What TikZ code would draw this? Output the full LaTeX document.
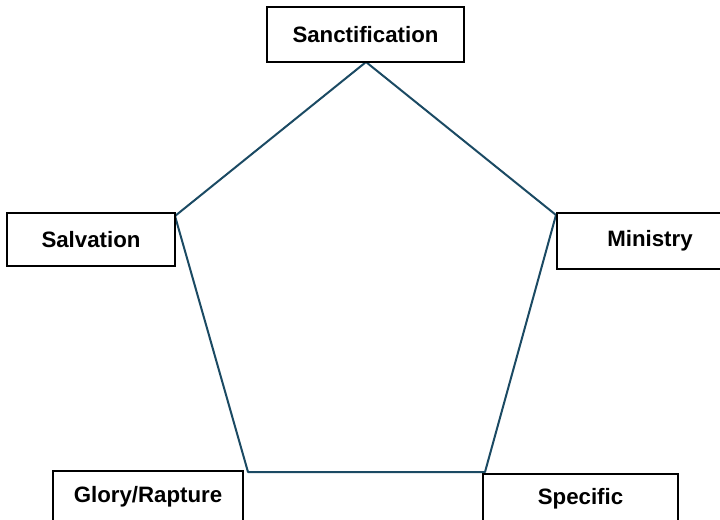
\documentclass[tikz,border=0pt]{standalone}
\usepackage{fontspec}
\setmainfont{Liberation Sans}
\usetikzlibrary{positioning}
\definecolor{edgeblue}{HTML}{1B4A63}
\begin{document}
\begin{tikzpicture}[x=0.75pt,y=-0.75pt,
  stage/.style={draw=black,line width=1.1pt,rectangle,inner sep=0pt,
    font=\fontsize{16.7}{20}\selectfont\bfseries},
  side/.style={draw=edgeblue,line width=1.5pt,line join=round}
]
  \useasboundingbox (0,0) rectangle (720,519);

  \coordinate (vtop) at (366,62);
  \coordinate (vright) at (556,215);
  \coordinate (vbr) at (485,472);
  \coordinate (vbl) at (248,472);
  \coordinate (vleft) at (175,216);

  \draw[side] (vtop) -- (vright) -- (vbr) -- (vbl) -- (vleft) -- cycle;

  \node[stage,minimum width=147.75pt,minimum height=41.25pt] (sanct) at (365.5,34.5) {Sanctification};
  \node[stage,minimum width=126pt,minimum height=39.75pt] (salv) at (91,239.5) {Salvation};
  \node[stage,minimum width=139.5pt,minimum height=42pt] (minis) at (650,241) {Ministry};
  \node[stage,minimum width=142.5pt,minimum height=39pt] (glory) at (148,497) {Glory/Rapture};
  \node[stage,minimum width=146.25pt,minimum height=37.5pt] (spec) at (580.5,499) {Specific};
\end{tikzpicture}
\end{document}
